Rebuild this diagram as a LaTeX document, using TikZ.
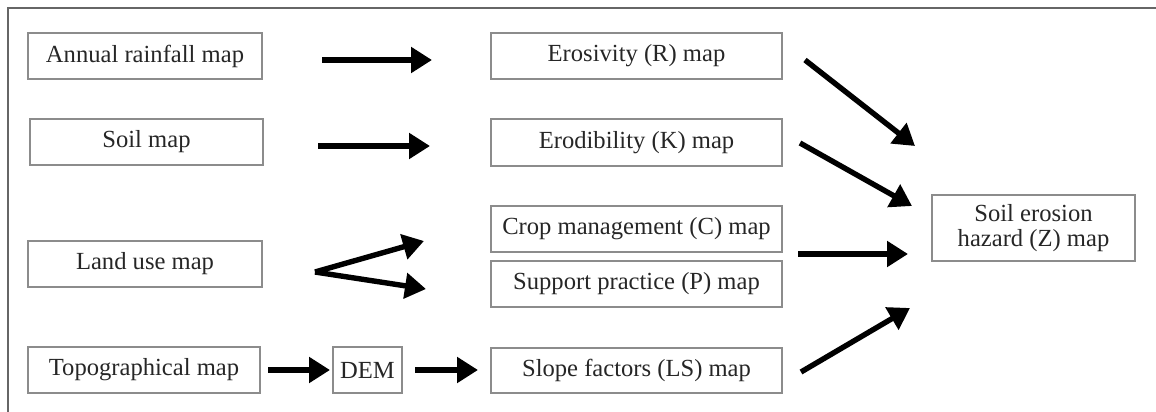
\documentclass[tikz,border=0pt]{standalone}
\usepackage{fontspec}
\setmainfont{Liberation Serif}
\usetikzlibrary{arrows.meta}
\tikzset{
  mapbox/.style={draw=black!45,line width=0.6pt,text=black!85,inner sep=0pt,minimum width=117pt,minimum height=23pt,align=center},
  flow/.style={-{Triangle[length=10.5pt,width=12.5pt]},line width=2.7pt}
}
\begin{document}
\begin{tikzpicture}[x=0.5pt,y=-0.5pt,font=\fontsize{12.3}{14.5}\selectfont]
			\useasboundingbox (0,0) rectangle (1156,412);
			\draw[black!60,line width=0.6pt] (8,412) -- (8,8) -- (1156,8);
			\node[mapbox] (rain) at (145,56) {Annual rainfall map};
			\node[mapbox,minimum width=116.5pt] (soil) at (146.5,142) {Soil map};
			\node[mapbox] (land) at (145,264) {Land use map};
			\node[mapbox,minimum width=116pt] (topo) at (144,370) {Topographical map};
			\node[mapbox,minimum width=34.5pt] (dem) at (367.5,370) {DEM};
			\node[mapbox,minimum width=145.5pt] (R) at (636.5,56) {Erosivity (R) map};
			\node[mapbox,minimum width=145.5pt,minimum height=23.5pt] (K) at (636.5,142.5) {Erodibility (K) map};
			\node[mapbox,minimum width=145.5pt] (C) at (636.5,229) {Crop management (C) map};
			\node[mapbox,minimum width=145.5pt] (P) at (636.5,284) {Support practice (P) map};
			\node[mapbox,minimum width=145.5pt,minimum height=22.5pt] (LS) at (636.5,370.5) {Slope factors (LS) map};
			\node[mapbox,minimum width=101.5pt,minimum height=33pt] (Z) at (1033.5,228) {Soil erosion\\[-2pt]hazard (Z) map};
			\coordinate (rainout) at (322,60);
			\coordinate (Rin) at (432,60);
			\coordinate (soilout) at (318,146);
			\coordinate (Kin) at (430,146);
			\coordinate (landout) at (315,272);
			\coordinate (Cin) at (424,241);
			\coordinate (Pin) at (426,289);
			\coordinate (topoout) at (268,370);
			\coordinate (demin) at (330,370);
			\coordinate (demout) at (415,370);
			\coordinate (LSin) at (478,370);
			\coordinate (Rout) at (805,60);
			\coordinate (Zr) at (915,146);
			\coordinate (Kout) at (800,143);
			\coordinate (Zk) at (912,206);
			\coordinate (Cout) at (798,254);
			\coordinate (Zc) at (908,254);
			\coordinate (LSout) at (801,372);
			\coordinate (Zls) at (910,308);
			\draw[flow] (rainout) -- (Rin);
			\draw[flow] (soilout) -- (Kin);
			\draw[flow] (landout) -- (Cin);
			\draw[flow] (landout) -- (Pin);
			\draw[flow] (topoout) -- (demin);
			\draw[flow] (demout) -- (LSin);
			\draw[flow] (Rout) -- (Zr);
			\draw[flow] (Kout) -- (Zk);
			\draw[flow] (Cout) -- (Zc);
			\draw[flow] (LSout) -- (Zls);
		\end{tikzpicture}
\end{document}
